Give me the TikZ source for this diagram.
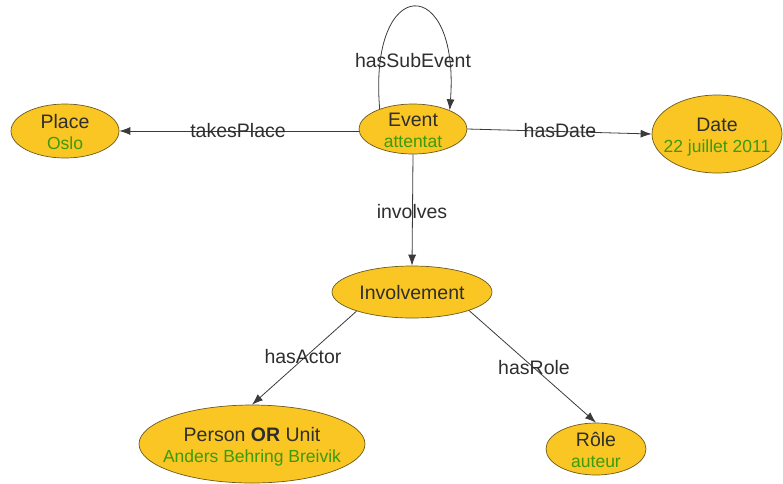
\documentclass[tikz,border=0pt]{standalone}
\usepackage{fontspec}
\setmainfont{Liberation Sans}
\usetikzlibrary{shapes.geometric,arrows.meta}
\definecolor{nodefill}{HTML}{F9C623}
\definecolor{nodeline}{HTML}{6B5A1E}
\definecolor{subgreen}{HTML}{3C9A0E}
\definecolor{txt}{HTML}{2E2E2E}
\definecolor{edgecol}{HTML}{3A3A3A}
\newcommand\subtxt[1]{{\color{subgreen}\fontsize{17.5}{21}\selectfont #1}}
\newcommand\ctrtxt[1]{\raisebox{-0.45em}[0pt][0pt]{\makebox[0pt]{\begin{tabular}{@{}c@{}}#1\end{tabular}}}}
\tikzset{
  ent/.style={ellipse, draw=nodeline, fill=nodefill, line width=0.7pt, inner sep=0pt,
    text=txt, font=\fontsize{19.5}{21}\selectfont},
  rel/.style={draw=edgecol, line width=0.8pt, -{Latex[length=11pt,width=8pt]}},
  lbl/.style={text=txt, font=\fontsize{19.5}{22}\selectfont, inner sep=0pt}
}
\begin{document}
\begin{tikzpicture}[x=1pt,y=-1pt]
\useasboundingbox (0,0) rectangle (783,483);
\node[ent, minimum width=108pt, minimum height=50pt] (event) at (413,129) {\ctrtxt{Event\\\subtxt{attentat}}};
\node[ent, minimum width=108pt, minimum height=54pt] (place) at (65,131) {\ctrtxt{Place\\\subtxt{Oslo}}};
\node[ent, minimum width=130pt, minimum height=78pt] (date) at (717,134) {\ctrtxt{Date\\\subtxt{22 juillet 2011}}};
\node[ent, minimum width=160pt, minimum height=52pt] (inv) at (412,292) {\ctrtxt{Involvement}};
\node[ent, minimum width=226pt, minimum height=78pt] (person) at (252,444) {\ctrtxt{Person \textbf{OR} Unit\\\subtxt{Anders Behring Breivik}}};
\node[ent, minimum width=100pt, minimum height=52pt] (role) at (596,449) {\ctrtxt{Rôle\\\subtxt{auteur}}};

\draw[rel] (event.west |- 0,131) -- (place.east |- 0,131);
\draw[rel] (event.east) -- (date.west);
\draw[rel] (event.south) -- (inv.north);
\draw[rel] (inv.199) -- (person.north);
\draw[rel] (inv.342) -- (role.north);
\draw[rel] (event.149) .. controls (368,-27) and (460,-27) .. (event.27);

\node[lbl] (lplace) at (238,131) {takesPlace};
\node[lbl] (ldate) at (560,131) {hasDate};
\node[lbl] (linv) at (412,212) {involves};
\node[lbl] (lactor) at (303,357) {hasActor};
\node[lbl] (lrole) at (534,368) {hasRole};
\node[lbl] (lsub) at (413,61) {hasSubEvent};
\end{tikzpicture}
\end{document}
